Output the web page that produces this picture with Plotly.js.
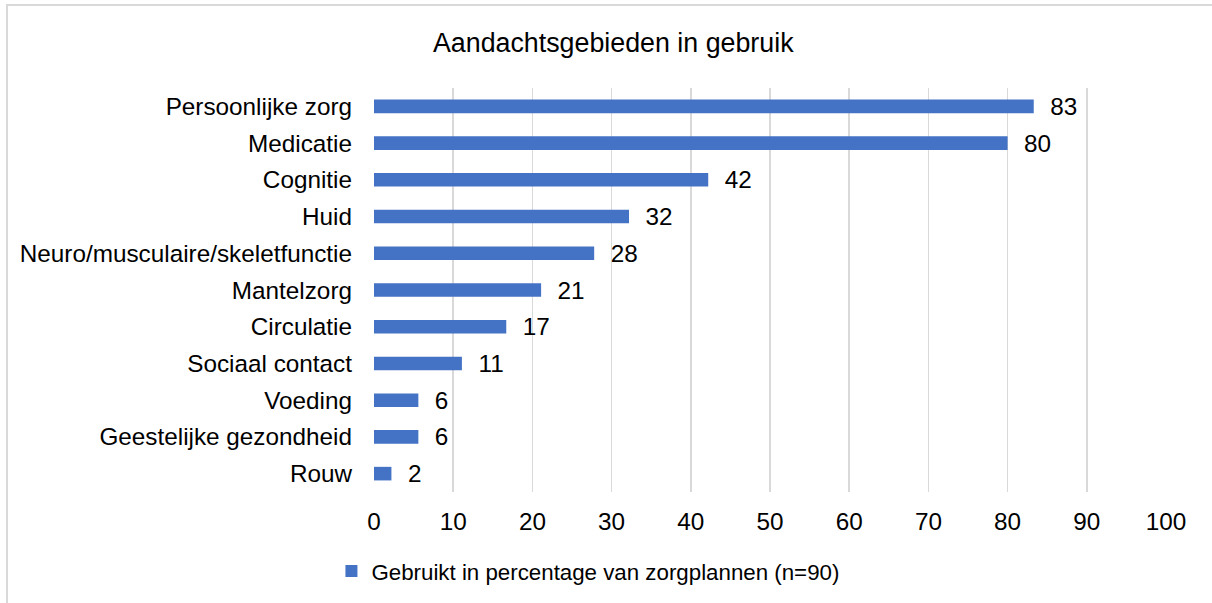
<!DOCTYPE html>
<html><head><meta charset="utf-8">
<script src="https://cdn.plot.ly/plotly-3.0.1.min.js"></script>
<style>
html,body{margin:0;padding:0;background:#fff;overflow:hidden;}
#frame{position:absolute;left:6px;top:4px;width:1400px;height:800px;border:2px solid #d9d9d9;pointer-events:none;}
#chart{position:absolute;left:0;top:0;width:1212px;height:603px;}
</style></head>
<body>
<div id="frame"></div>
<div id="chart"></div>
<script>
const categories = ["Persoonlijke zorg","Medicatie","Cognitie","Huid","Neuro/musculaire/skeletfunctie","Mantelzorg","Circulatie","Sociaal contact","Voeding","Geestelijke gezondheid","Rouw"];
const values = [83.3, 80.0, 42.2, 32.2, 27.8, 21.1, 16.7, 11.1, 5.6, 5.6, 2.2];
const labels = ["83","80","42","32","28","21","17","11","6","6","2"];
const xTicks = [0,10,20,30,40,50,60,70,80,90,100];
const seriesName = "Gebruikt in percentage van zorgplannen (n=90)";
const chartTitle = "Aandachtsgebieden in gebruik";

const FONT = "Liberation Sans, Arial, sans-serif";
const trace = {
  type: "bar", orientation: "h",
  y: categories, x: values,
  text: labels, texttemplate: "  %{text}", textposition: "outside",
  constraintext: "none",
  textfont: {family: FONT, size: 24.3, color: "#000"},
  cliponaxis: false,
  marker: {color: "#4472C4"},
  width: 0.37,
  name: seriesName, showlegend: true,
  hoverinfo: "skip"
};
const layout = {
  width: 1212, height: 603,
  paper_bgcolor: "rgba(0,0,0,0)", plot_bgcolor: "rgba(0,0,0,0)",
  margin: {l: 374, r: 46, t: 88, b: 111},
  font: {family: FONT, size: 24.3, color: "#000"},
  title: {text: chartTitle, font: {family: FONT, size: 26.8, color: "#000"}, x: 0.506, xref: "container", xanchor: "center", y: 0.93, yref: "container", yanchor: "middle"},
  xaxis: {range: [0, 100], tickvals: xTicks, ticktext: xTicks.map(String), tickfont: {family: FONT, size: 24.3, color: "#000"}, showgrid: true, gridcolor: "#d9d9d9", gridwidth: 1.5, zeroline: false, showline: false, ticks: "", ticklabelstandoff: 13, fixedrange: true},
  yaxis: {autorange: "reversed", tickfont: {family: FONT, size: 24.3, color: "#000"}, showgrid: false, zeroline: false, showline: false, ticks: "", ticklabelstandoff: 21, fixedrange: true},
  showlegend: true,
  legend: {orientation: "h", x: 0.4851, xref: "container", xanchor: "center", y: 0.053, yref: "container", yanchor: "middle", font: {family: FONT, size: 22.3, color: "#000"}, bgcolor: "rgba(0,0,0,0)"},
  bargap: 0.63
};
Plotly.newPlot("chart", [trace], layout, {displayModeBar: false, staticPlot: true});
</script>
</body></html>
